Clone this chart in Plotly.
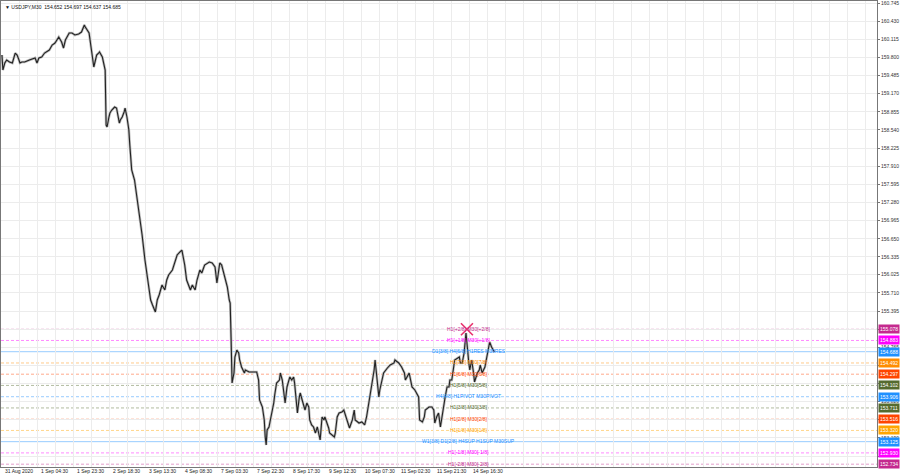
import plotly.graph_objects as go

# ---------------- data ----------------
bars = [0, 1, 3, 5, 8, 11, 14, 16, 18, 19, 21, 24, 29, 32, 35, 37, 39, 42, 45, 50,
        53, 56, 60, 63, 65, 67, 71, 74, 77, 81, 84, 87, 88, 92, 93, 95, 97, 98, 100, 102,
        103, 106, 108, 109, 110, 111, 113, 114, 116, 118, 119, 121, 124, 125, 127, 129, 130, 132, 134, 135,
        137, 140, 143, 145, 148, 151, 153, 155, 157, 159, 162, 164, 166, 169, 172, 174, 176, 180, 183, 185,
        188, 190, 193, 195, 199, 201, 204, 206, 209, 211, 214, 219, 222, 225, 227, 229, 230, 232, 234, 235,
        238, 240, 241, 242, 243, 245, 246, 248, 250, 251, 253, 256, 257, 261, 264, 267, 269, 271, 272, 275,
        277, 278, 279, 280, 282, 283, 285, 287, 288, 290, 293, 294, 296, 298, 299, 301, 303, 304, 306, 308,
        309, 312, 314, 315, 317, 320, 322, 324, 325, 327, 329, 331, 333, 335, 336, 338, 340, 341, 343, 345,
        346, 348, 351, 352, 354, 356, 359, 361, 362, 366, 367, 370, 372, 373, 377, 380, 383, 385, 388, 389,
        391, 393, 394, 396, 398, 399, 401, 403, 407, 410, 414, 415, 419, 422, 425, 426, 430, 431, 433, 436,
        440, 441, 444, 446, 447, 451, 454, 456, 457, 459, 461, 463, 465, 467, 468, 470, 472, 473, 475, 477,
        478, 483, 484, 486, 488, 490, 492, 493, 494, 496, 498, 499, 502, 504, 505, 507, 510, 512, 514, 515,
        517, 520]
closes = [159.842, 159.581, 159.703, 159.755, 159.720, 159.703, 159.876, 159.842, 159.755, 159.703,
          159.720, 159.720, 159.755, 159.772, 159.790, 159.703, 159.790, 159.807, 159.876, 159.928,
          160.015, 160.050, 160.154, 160.067, 159.963, 160.102, 160.224, 160.224, 160.189, 160.206,
          160.241, 160.363, 160.328, 160.224, 160.102, 159.807, 159.633, 159.703, 159.842, 159.876,
          159.894, 159.807, 159.633, 159.581, 158.626, 158.591, 158.765, 158.834, 158.886, 158.921,
          158.938, 158.921, 158.660, 158.713, 158.765, 158.852, 158.921, 158.765, 158.539, 158.278,
          157.844, 157.670, 157.323, 157.062, 156.715, 156.281, 156.020, 155.760, 155.586, 155.499,
          155.378, 155.586, 155.673, 155.847, 155.760, 155.933, 156.020, 156.107, 156.281, 156.368,
          156.420, 156.454, 156.194, 155.933, 155.760, 155.847, 155.760, 155.933, 156.107, 156.055,
          156.194, 156.246, 156.229, 156.159, 155.881, 156.159, 156.229, 156.194, 156.072, 156.020,
          155.812, 155.586, 155.534, 154.891, 154.144, 154.318, 154.596, 154.717, 154.665, 154.544,
          154.422, 154.318, 154.370, 154.335, 154.335, 154.335, 154.335, 154.196, 153.849, 153.727,
          153.502, 153.206, 153.067, 153.328, 153.380, 153.467, 153.623, 153.797, 153.936, 154.144,
          154.196, 154.318, 154.196, 153.901, 153.797, 154.075, 154.196, 154.249, 154.196, 154.249,
          154.144, 153.623, 153.901, 153.971, 153.849, 153.675, 153.797, 153.727, 153.502, 153.415,
          153.380, 153.276, 153.380, 153.206, 153.154, 153.554, 153.502, 153.554, 153.467, 153.363,
          153.276, 153.241, 153.206, 153.276, 153.554, 153.623, 153.641, 153.675, 153.623, 153.380,
          153.363, 153.502, 153.675, 153.502, 153.449, 153.467, 153.415, 153.554, 153.849, 153.971,
          154.196, 154.370, 154.544, 154.196, 153.901, 154.023, 154.196, 154.318, 154.405, 154.457,
          154.492, 154.544, 154.492, 154.422, 154.318, 154.196, 154.318, 154.249, 154.075, 154.023,
          153.901, 153.502, 153.467, 153.554, 153.675, 153.727, 153.727, 153.675, 153.449, 153.554,
          153.623, 153.380, 153.623, 153.849, 153.901, 154.075, 154.075, 154.196, 154.196, 154.422,
          154.544, 154.596, 154.492, 154.492, 154.665, 155.013, 154.544, 154.492, 154.370, 154.544,
          154.318, 154.162, 154.318, 154.370, 154.457, 154.318, 154.422, 154.596, 154.752, 154.856,
          154.770, 154.683]

level_prices = [155.078, 154.883, 154.688, 154.492, 154.297, 154.102, 153.906,
                153.711, 153.516, 153.320, 153.125, 152.930, 152.734]
level_texts = ["H1[+2/8] M30[+2/8]", "H1[+1/8] M30[+1/8]", "D1[3/8] H4[6/8] H1RES M30RES",
               "H1[7/8] M30[7/8]", "H1[6/8] M30[6/8]", "H1[5/8] M30[5/8]",
               "H4[4/8] H1PIVOT M30PIVOT", "H1[3/8] M30[3/8]", "H1[2/8] M30[2/8]",
               "H1[1/8] M30[1/8]", "W1[3/8] D1[2/8] H4SUP H1SUP M30SUP",
               "H1[-1/8] M30[-1/8]", "H1[-2/8] M30[-2/8]"]
level_colors = ["#C42A8E", "#FF00FF", "#1E90FF", "#FF8C00", "#FF4500", "#556B2F", "#1E90FF",
                "#556B2F", "#FF4500", "#FFA500", "#1E90FF", "#FF00FF", "#C42A8E"]
level_dash = ["dash", "dash", "solid", "dash", "dash", "dash", "dash",
              "dash", "dash", "dash", "solid", "dash", "dash"]

y_tick_vals = [160.745, 160.430, 160.115, 159.800, 159.485, 159.170, 158.855, 158.540, 158.225,
               157.910, 157.595, 157.280, 156.965, 156.650, 156.335, 156.025, 155.710, 155.395,
               155.080, 154.765, 154.450, 154.135, 153.820, 153.505, 153.190, 152.875]
y_tick_text = ["160.745", "160.430", "160.115", "159.800", "159.485", "159.170", "158.855",
               "158.540", "158.225", "157.910", "157.595", "157.280", "156.965", "156.650",
               "156.335", "156.025", "155.710", "155.395", "", "154.765", "", "", "153.820",
               "", "153.190", ""]

x_label_bars = [0, 38, 76, 114, 152, 190, 228, 266, 304, 342, 380, 418, 456, 494]
x_label_text = ["31 Aug 2020", "1 Sep 04:30", "1 Sep 23:30", "2 Sep 18:30", "3 Sep 13:30",
                "4 Sep 08:30", "7 Sep 03:30", "7 Sep 22:30", "8 Sep 17:30", "9 Sep 12:30",
                "10 Sep 07:30", "11 Sep 02:30", "11 Sep 21:30", "14 Sep 16:30"]
x_grid_bars = list(range(0, 925, 19))

title_text = "▼ USDJPY,M30  154.652 154.697 154.637 154.685"
cross_bar = 491
cross_price = 155.078

FONT = "Liberation Sans"

fig = go.Figure()
fig.add_trace(go.Scatter(x=bars, y=closes, mode="lines",
                         line=dict(color="#bdbdbd", width=2.6), hoverinfo="skip"))
fig.add_trace(go.Scatter(x=bars, y=closes, mode="lines",
                         line=dict(color="#222222", width=1.1), hoverinfo="skip"))
fig.add_trace(go.Scatter(x=[cross_bar], y=[cross_price], mode="markers",
                         marker=dict(symbol="x-thin", size=12,
                                     line=dict(color="#E8336E", width=1.6)),
                         hoverinfo="skip"))

shapes = []
annotations = []
for p, t, c, d in zip(level_prices, level_texts, level_colors, level_dash):
    shapes.append(dict(type="line", xref="paper", x0=0, x1=1, yref="y", y0=p, y1=p,
                       layer="between", opacity=0.45,
                       line=dict(color=c, width=1, dash=("3px,2px" if d == "dash" else "solid"))))
    annotations.append(dict(x=493, y=p, xref="x", yref="y", text=t, showarrow=False,
                            xanchor="center", yanchor="middle", yshift=0.5,
                            font=dict(family=FONT, size=5, color=c)))
    annotations.append(dict(x=1, y=p, xref="paper", yref="y", text=f"{p:.3f}",
                            showarrow=False, xanchor="left", yanchor="middle", xshift=1,
                            bgcolor=c, borderpad=1,
                            font=dict(family=FONT, size=5, color="white")))

for b, t in zip(x_label_bars, x_label_text):
    annotations.append(dict(x=b, y=0, xref="x", yref="paper", text=t, showarrow=False,
                            xanchor="left", yanchor="middle", yshift=-3.5, xshift=1,
                            font=dict(family=FONT, size=5, color="#222")))

annotations.append(dict(x=0, y=1, xref="paper", yref="paper", text=title_text, showarrow=False,
                        xanchor="left", yanchor="top", xshift=2, yshift=-1,
                        font=dict(family=FONT, size=5, color="#111")))

fig.update_layout(
    width=900, height=474,
    margin=dict(l=1, r=23, t=1, b=7),
    paper_bgcolor="white", plot_bgcolor="white",
    showlegend=False,
    shapes=shapes, annotations=annotations,
    xaxis=dict(range=[-1, 924], tickvals=x_grid_bars, showticklabels=False,
               showgrid=True, gridcolor="#ECECEC", gridwidth=1, zeroline=False,
               showline=True, linecolor="#777", linewidth=1, mirror=True, ticks=""),
    yaxis=dict(range=[152.685, 160.780], side="right", tickvals=y_tick_vals,
               ticktext=y_tick_text, showgrid=True, gridcolor="#ECECEC", gridwidth=1,
               zeroline=False, showline=True, linecolor="#777", linewidth=1, mirror=True,
               ticks="outside", ticklen=2, tickcolor="#777", ticklabeloverflow="allow",
               tickfont=dict(family=FONT, size=5, color="#333")),
)

fig.write_html("out.html", config={"displayModeBar": False},
               post_script="document.body.style.margin='0';document.body.style.overflow='hidden';")
